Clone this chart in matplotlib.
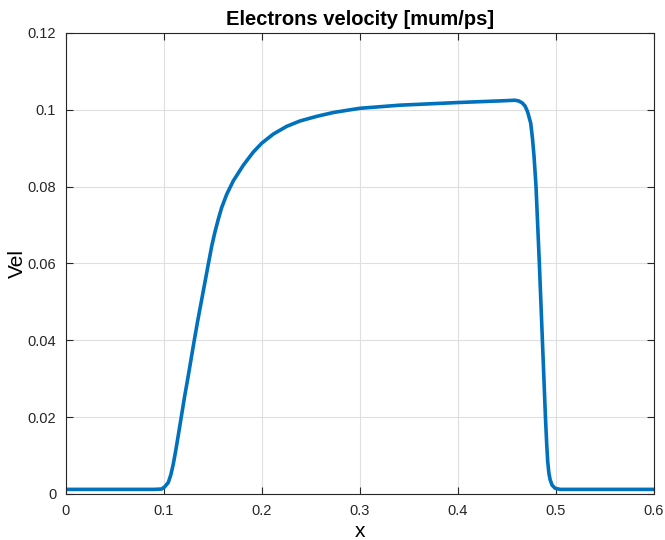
import matplotlib
matplotlib.use("Agg")
import matplotlib.pyplot as plt

x = [0.0, 0.05, 0.09, 0.0976, 0.1005, 0.1044, 0.107, 0.1095, 0.112, 0.1146, 0.1173,
     0.121, 0.1248, 0.1309, 0.1345, 0.1384, 0.142, 0.1452, 0.1487, 0.152, 0.1555,
     0.1588, 0.164, 0.1707, 0.181, 0.1911, 0.1997, 0.2116, 0.2252, 0.2388, 0.2558,
     0.2728, 0.2898, 0.3, 0.34, 0.4, 0.45,
     0.458, 0.462, 0.4655, 0.4684, 0.471, 0.4742, 0.476, 0.4776, 0.4796, 0.483,
     0.4861, 0.4892, 0.4905, 0.4915, 0.4927, 0.494, 0.496, 0.499, 0.5041, 0.55, 0.6]
vel = [0.0012, 0.0012, 0.0012, 0.0013, 0.0018, 0.0030, 0.0050, 0.0078, 0.0113, 0.0153, 0.0195,
       0.0253, 0.0308, 0.0400, 0.0452, 0.0505, 0.0554, 0.0598, 0.0645, 0.0682, 0.0716,
       0.0745, 0.0780, 0.0815, 0.0856, 0.0890, 0.0913, 0.0937, 0.0957, 0.0971, 0.0983,
       0.0993, 0.1000, 0.1004, 0.1012, 0.1019, 0.1024,
       0.1025, 0.1023, 0.1018, 0.1010, 0.0995, 0.0965, 0.0925, 0.0878, 0.0800, 0.0600,
       0.0400, 0.0200, 0.0130, 0.0085, 0.0055, 0.0037, 0.0023, 0.0015, 0.0012, 0.0012, 0.0012]

xticks = [0, 0.1, 0.2, 0.3, 0.4, 0.5, 0.6]
xticklabels = ["0", "0.1", "0.2", "0.3", "0.4", "0.5", "0.6"]
yticks = [0, 0.02, 0.04, 0.06, 0.08, 0.1, 0.12]
yticklabels = ["0", "0.02", "0.04", "0.06", "0.08", "0.1", "0.12"]

plt.rcParams['font.family'] = ['Liberation Sans', 'DejaVu Sans']

fig = plt.figure(figsize=(6.65, 5.4), dpi=100)
ax = fig.add_axes([0.0992, 0.0852, 0.8843, 0.8537])
ax.plot(x, vel, color='#0072BD', linewidth=2.6, solid_joinstyle='round')
ax.set_xlim(0, 0.6)
ax.set_ylim(0, 0.12)
ax.set_xticks(xticks)
ax.set_xticklabels(xticklabels)
ax.set_yticks(yticks)
ax.set_yticklabels(yticklabels)
ax.grid(True, color='#dfdfdf', linewidth=0.8)
ax.set_axisbelow(True)
ax.tick_params(direction='in', length=5, width=0.8, colors='#262626', labelsize=10.5,
               top=True, right=True, pad=7)
for s in ax.spines.values():
    s.set_color('#262626')
    s.set_linewidth(0.8)
ax.set_title('Electrons velocity [mum/ps]', fontsize=14.5, fontweight='bold', pad=6)
ax.set_xlabel('x', fontsize=15, va='center')
ax.set_ylabel('Vel', fontsize=15, va='center')
ax.xaxis.set_label_coords(0.5, -0.082)
ax.yaxis.set_label_coords(-0.083, 0.5)
fig.savefig('out.png', dpi=100)
